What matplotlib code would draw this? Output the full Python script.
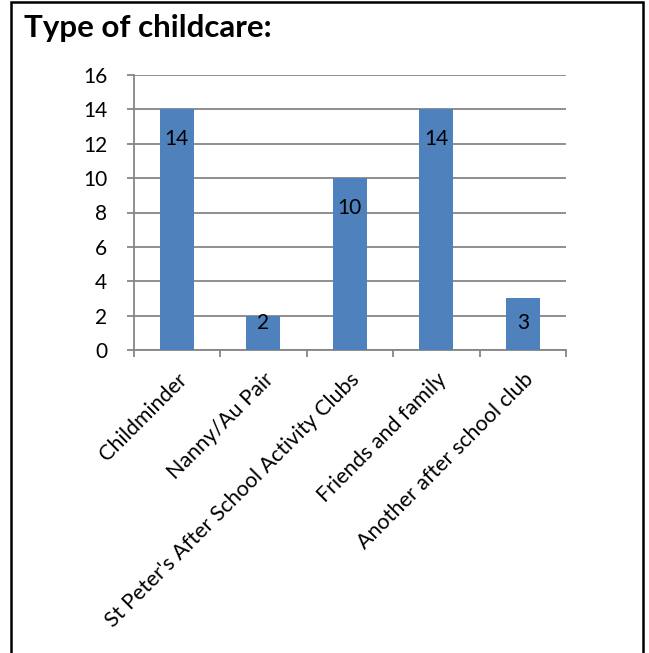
import matplotlib
matplotlib.use("Agg")
from matplotlib import pyplot as plt
from matplotlib.patches import Rectangle
from matplotlib.transforms import ScaledTranslation

categories = ["Childminder", "Nanny/Au Pair", "St Peter's After School Activity Clubs",
              "Friends and family", "Another after school club"]
counts = [14, 2, 10, 14, 3]
yticks = [0, 2, 4, 6, 8, 10, 12, 14, 16]

plt.rcParams["font.family"] = ["Lato", "DejaVu Sans"]

W, H = 649, 653
fig = plt.figure(figsize=(W / 100, H / 100), dpi=100)

# outer frame (bottom edge runs off the picture)
fig.patches.append(Rectangle((11 / W, -0.05), (643 - 11) / W, 1.05 - 1.5 / H,
                             transform=fig.transFigure, fill=False,
                             edgecolor="black", linewidth=1.8))

fig.text(24 / W, 1 - 37 / H, "Type of childcare:", fontsize=22.5, fontweight="bold",
         color="black", ha="left", va="baseline")

ax = fig.add_axes([133.5 / W, 1 - 350 / H, (566 - 133.5) / W, (350 - 75) / H])
x = range(len(categories))
ax.bar(x, counts, width=0.39, color="#4F81BD", zorder=3)
# data labels sit inside the top of each bar, but stay inside short bars
for xi, v in zip(x, counts):
    ax.text(xi, max(v - 1.75, 1.55), str(v), ha="center", va="center",
            fontsize=15, zorder=4)

ax.set_xlim(-0.5, len(categories) - 0.5)
ax.set_ylim(0, 16)
ax.set_yticks(yticks)
ax.yaxis.grid(True, color="#868686", linewidth=1.3, zorder=0)
ax.set_xticks([i - 0.5 for i in range(len(categories) + 1)], minor=False)
ax.set_xticklabels([])
ax.set_xticks(list(x), minor=True)
ax.set_xticklabels(categories, minor=True, rotation=45, ha="right",
                   rotation_mode="anchor", fontsize=15.5)
shift = ScaledTranslation(-6 / 100, 0, fig.dpi_scale_trans)
for lbl in ax.get_xticklabels(minor=True):
    lbl.set_transform(lbl.get_transform() + shift)
ax.tick_params(axis="x", which="minor", length=0, pad=14)
ax.tick_params(axis="x", which="major", length=5, color="#868686", width=1.3)
ax.tick_params(axis="y", length=5, color="#868686", width=1.3, labelsize=15, pad=14)
for s in ["top", "right"]:
    ax.spines[s].set_visible(False)
for s in ["left", "bottom"]:
    ax.spines[s].set_color("#868686")
    ax.spines[s].set_linewidth(1.3)

fig.savefig("out.png", dpi=100)
